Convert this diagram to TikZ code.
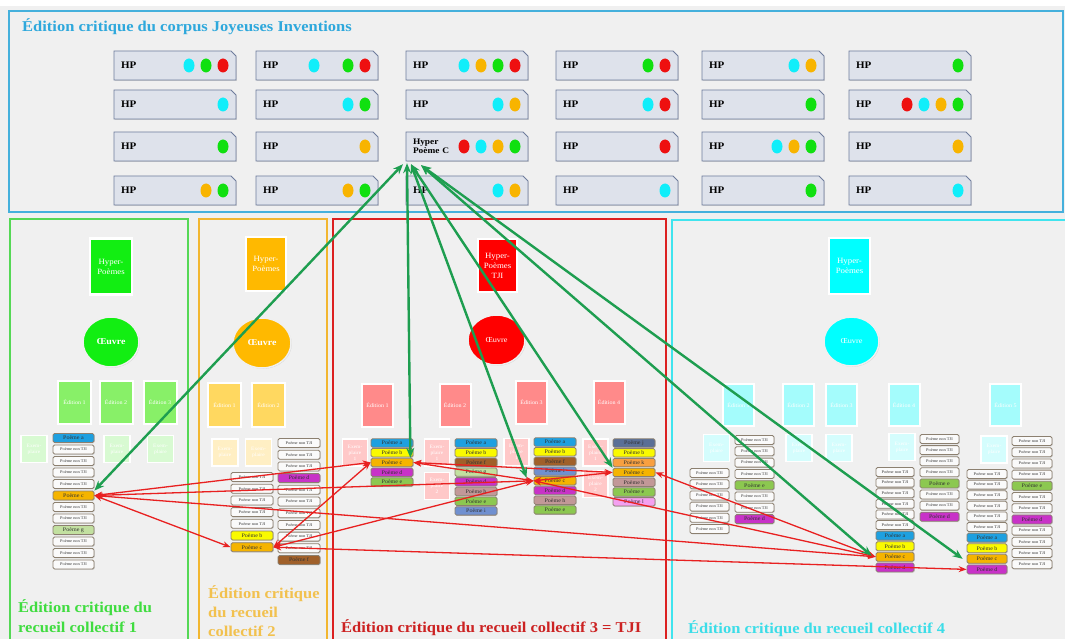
\documentclass[tikz,border=0pt]{standalone}
\usepackage{fontspec}
\setmainfont{Liberation Serif}[FakeStretch=1.1]
\usetikzlibrary{shapes.geometric,arrows.meta,shadows,calc}

% page and frames
\definecolor{bggray}{HTML}{F0F0F0}
\definecolor{topline}{HTML}{45B0DC}
\definecolor{titleblue}{HTML}{2EA8DC}
\definecolor{line1}{HTML}{55D855}
\definecolor{line2}{HTML}{F2B630}
\definecolor{line3}{HTML}{DC2020}
\definecolor{line4}{HTML}{40E4EE}
\definecolor{title1}{HTML}{40DC40}
\definecolor{title2}{HTML}{F2C14E}
\definecolor{title3}{HTML}{CC2222}
\definecolor{title4}{HTML}{3CDDE8}
% hyper-poem cards
\definecolor{hpfill}{HTML}{DEE2EB}
\definecolor{hpborder}{HTML}{6E7C9C}
\definecolor{dc}{HTML}{10EEFA}
\definecolor{dg}{HTML}{10E010}
\definecolor{dr}{HTML}{EE1010}
\definecolor{do}{HTML}{F8B400}
% collection colours
\definecolor{h1}{HTML}{12EE12}
\definecolor{h2}{HTML}{FFB900}
\definecolor{h3}{HTML}{FF0000}
\definecolor{h4}{HTML}{00FFFF}
\definecolor{ed1}{HTML}{88F068}
\definecolor{ed2}{HTML}{FFD860}
\definecolor{ed3}{HTML}{FF8A8A}
\definecolor{ed4}{HTML}{A4FCFC}
\definecolor{ex1}{HTML}{D8FAD2}
\definecolor{ex2}{HTML}{FFEFC4}
\definecolor{ex3}{HTML}{FFC8C8}
\definecolor{ex4}{HTML}{D4FDFD}
% poems
\definecolor{itemborder}{HTML}{8C8070}
\definecolor{itemtext}{HTML}{333333}
\definecolor{pn}{HTML}{FAFAFA}
\definecolor{pa}{HTML}{1EA0E0}
\definecolor{pb}{HTML}{FAFA00}
\definecolor{pc}{HTML}{F5B400}
\definecolor{pd}{HTML}{C832C8}
\definecolor{pe}{HTML}{8CC850}
\definecolor{pf}{HTML}{A0602A}
\definecolor{pg}{HTML}{C2E0A0}
\definecolor{ph}{HTML}{C29898}
\definecolor{pi}{HTML}{7090D0}
\definecolor{pj}{HTML}{5A6F96}
\definecolor{pk}{HTML}{F8A040}
\definecolor{pl}{HTML}{F4A0F0}
% links
\definecolor{redarrow}{HTML}{E82020}
\definecolor{greenarrow}{HTML}{1E9E50}

% one hyper-poem card (corner cut at top right) with its coloured dots,
% slot 0 being the rightmost dot
\newcommand\hpcell[6][]{%
  \filldraw[hpshape] ({#3-61},{#4-14.5}) -- ({#3+56},{#4-14.5})
    -- ({#3+61},{#4-9.5}) -- ({#3+61},{#4+14.5}) -- ({#3-61},{#4+14.5}) -- cycle;
  \node[hplabel,#1] (#2) at (#3,#4) {#5};
  \foreach \s/\dc in {#6} {%
    \node[hpdot, fill=d\dc] (#2-\s) at ({#3+48-17*\s},#4) {};
  }%
}
% one column of poem tags: prefix, x, first y, step, extra options, kinds
\newcommand\poemcol[6]{%
  \foreach \k [count=\i from 0] in {#6} {%
    \if n\k
      \def\ptxt{Poème non TJI}\def\pfnt{\fontsize{4}{4}\selectfont}%
    \else
      \edef\ptxt{Poème \k}\def\pfnt{\fontsize{5.5}{5.5}\selectfont}%
    \fi
    \node[poem, fill=p\k, #5, font=\pfnt] (#1-\i) at (#2,{#3+#4*\i}) {\ptxt};
  }%
}

\begin{document}
\begin{tikzpicture}[x=1pt, y=-1pt,
  softshadow/.style={drop shadow={shadow xshift=0.8pt, shadow yshift=-0.8pt, opacity=0.25}},
  hpshape/.style={draw=hpborder, fill=hpfill, line width=0.9pt, softshadow},
  hplabel/.style={rectangle, minimum width=122pt, minimum height=29pt,
    text width=108pt, align=left, inner xsep=7pt, inner ysep=0pt,
    font=\fontsize{10}{11}\selectfont\bfseries},
  hpdot/.style={ellipse, inner sep=0pt, minimum width=11pt, minimum height=14pt},
  hyperbox/.style={rectangle, draw=white, line width=2.5pt, minimum width=42pt,
    minimum height=56pt, inner sep=1pt, text=white, align=center,
    font=\fontsize{8}{10}\selectfont, softshadow},
  oeuvre/.style={ellipse, draw=white!88!gray, line width=1.5pt, text=white,
    inner sep=0pt, softshadow},
  edbox/.style={rectangle, draw=white, line width=2pt, minimum width=33pt,
    minimum height=43pt, inner sep=0pt, text=white,
    font=\fontsize{5.5}{6}\selectfont, softshadow},
  exbox/.style={rectangle, draw=white, line width=1.5pt, minimum width=26pt,
    minimum height=27pt, inner sep=0pt, text=white, align=center,
    font=\fontsize{5}{6}\selectfont, softshadow},
  poem/.style={rectangle, rounded corners=1.5pt, draw=itemborder, line width=0.8pt,
    minimum width=41pt, minimum height=9pt, inner sep=0pt, text=itemtext, softshadow},
  redlink/.style={draw=redarrow, line width=1.3pt,
    {Stealth[length=8pt,width=6pt]}-{Stealth[length=8pt,width=6pt]}},
  greenlink/.style={draw=greenarrow, line width=2.4pt,
    {Stealth[length=10pt,width=8pt]}-{Stealth[length=10pt,width=8pt]}},
  paneltitle/.style={anchor=base west, align=left, inner sep=0pt,
    font=\fontsize{15}{19.5}\selectfont\bfseries},
]
\useasboundingbox (0,0) rectangle (1065,639);
\fill[white] (0,0) rectangle (1065,639);
\fill[bggray] (0,6) rectangle (1065,639);

% ---------- corpus frame ----------
\draw[topline, line width=1.3pt] (9,11) rectangle (1063,212);
\node[anchor=base west, inner sep=0pt, text=titleblue,
  font=\fontsize{15}{18}\selectfont\bfseries] (corpustitle) at (22,32)
  {Édition critique du corpus Joyeuses Inventions};

\hpcell{hp11}{175}{65.5}{HP}{2/c,1/g,0/r}
\hpcell{hp12}{317}{65.5}{HP}{3/c,1/g,0/r}
\hpcell{hp13}{467}{65.5}{HP}{3/c,2/o,1/g,0/r}
\hpcell{hp14}{617}{65.5}{HP}{1/g,0/r}
\hpcell{hp15}{763}{65.5}{HP}{1/c,0/o}
\hpcell{hp16}{910}{65.5}{HP}{0/g}

\hpcell{hp21}{175}{104.5}{HP}{0/c}
\hpcell{hp22}{317}{104.5}{HP}{1/c,0/g}
\hpcell{hp23}{467}{104.5}{HP}{1/c,0/o}
\hpcell{hp24}{617}{104.5}{HP}{1/c,0/r}
\hpcell{hp25}{763}{104.5}{HP}{0/g}
\hpcell{hp26}{910}{104.5}{HP}{3/r,2/c,1/o,0/g}

\hpcell{hp31}{175}{146.5}{HP}{0/g}
\hpcell{hp32}{317}{146.5}{HP}{0/o}
\hpcell[font=\fontsize{8.5}{9.5}\selectfont\bfseries]{hp33}{467}{146.5}{Hyper\\Poème C}{3/r,2/c,1/o,0/g}
\hpcell{hp34}{617}{146.5}{HP}{0/r}
\hpcell{hp35}{763}{146.5}{HP}{2/c,1/o,0/g}
\hpcell{hp36}{910}{146.5}{HP}{0/o}

\hpcell{hp41}{175}{190.5}{HP}{1/o,0/g}
\hpcell{hp42}{317}{190.5}{HP}{1/o,0/g}
\hpcell{hp43}{467}{190.5}{HP}{1/c,0/o}
\hpcell{hp44}{617}{190.5}{HP}{0/c}
\hpcell{hp45}{763}{190.5}{HP}{0/g}
\hpcell{hp46}{910}{190.5}{HP}{0/c}

% ---------- collection frames ----------
\draw[line1, line width=1.4pt] (10,650) -- (10,219) -- (188,219) -- (188,650);
\draw[line2, line width=1.4pt] (199,650) -- (199,219) -- (327,219) -- (327,650);
\draw[line3, line width=1.4pt] (333,650) -- (333,219) -- (666,219) -- (666,650);
\draw[line4, line width=1.4pt] (672,650) -- (672,220) -- (1070,220);

\node[paneltitle, text=title1] (title1) at (18,632) {Édition critique du\\recueil collectif 1};
\node[paneltitle, text=title2, font=\fontsize{15}{19}\selectfont\bfseries] (title2) at (208,636) {Édition critique\\du recueil\\collectif 2};
\node[paneltitle, text=title3] (title3) at (341,632) {Édition critique du recueil collectif 3 = TJI};
\node[paneltitle, text=title4] (title4) at (688,633) {Édition critique du recueil collectif 4};

% ---------- collection 1 ----------
\node[hyperbox, fill=h1] (hyp1) at (111,266.5) {Hyper-\\Poèmes};
\node[oeuvre, fill=h1, minimum width=56pt, minimum height=50pt,
  font=\fontsize{9}{9}\selectfont\bfseries] (oe1) at (111,342) {Œuvre};
\node[edbox, fill=ed1] (ed11) at (74.5,402.5) {Édition 1};
\node[edbox, fill=ed1] (ed12) at (116,402.5) {Édition 2};
\node[edbox, fill=ed1] (ed13) at (160,402.5) {Édition 3};
\node[exbox, fill=ex1] (ex11) at (34,449) {Exem-\\plaire};
\node[exbox, fill=ex1] (ex12) at (117,449) {Exem-\\plaire};
\node[exbox, fill=ex1] (ex13) at (160.5,449) {Exem-\\plaire};
\poemcol{p1}{73.5}{438}{11.5}{minimum width=41pt}{a,n,n,n,n,c,n,n,g,n,n,n}

% ---------- collection 2 ----------
\node[hyperbox, fill=h2, minimum width=40pt, minimum height=54pt] (hyp2) at (266,264) {Hyper-\\Poèmes};
\node[oeuvre, fill=h2, minimum width=58pt, minimum height=50pt,
  font=\fontsize{9}{9}\selectfont\bfseries] (oe2) at (262,343) {Œuvre};
\node[edbox, fill=ed2, minimum height=44pt] (ed21) at (224.5,405) {Édition 1};
\node[edbox, fill=ed2, minimum height=44pt] (ed22) at (268.5,405) {Édition 2};
\node[exbox, fill=ex2] (ex21) at (225,452.5) {Exem-\\plaire};
\node[exbox, fill=ex2] (ex22) at (258.5,452.5) {Exem-\\plaire};
\poemcol{p2a}{252}{477}{11.7}{minimum width=42pt}{n,n,n,n,n,b,c}
\poemcol{p2b}{299}{443}{11.7}{minimum width=42pt}{n,n,n,d,n,n,n,n,n,n,f}

% ---------- collection 3 = TJI ----------
\node[hyperbox, fill=h3, minimum width=39pt, minimum height=53pt] (hyp3) at (497.5,265.5) {Hyper-\\Poèmes\\TJI};
\node[oeuvre, fill=h3, minimum width=57pt, minimum height=50pt,
  font=\fontsize{7.5}{7.5}\selectfont] (oe3) at (496.5,340) {Œuvre};
\node[edbox, fill=ed3, minimum width=31pt] (ed31) at (377.5,405.5) {Édition 1};
\node[edbox, fill=ed3, minimum width=31pt] (ed32) at (455,405) {Édition 2};
\node[edbox, fill=ed3, minimum width=31pt] (ed33) at (531.5,402.5) {Édition 3};
\node[edbox, fill=ed3, minimum width=31pt] (ed34) at (609,402.5) {Édition 4};
\node[exbox, fill=ex3, minimum width=25pt] (ex31) at (355,452.5) {Exem-\\plaire\\1};
\node[exbox, fill=ex3, minimum width=25pt] (ex32) at (437,452.5) {Exem-\\plaire\\1};
\node[exbox, fill=ex3, minimum width=25pt] (ex33) at (437,486) {Exem-\\plaire\\2};
\node[exbox, fill=ex3, minimum width=25pt] (ex34) at (516.5,452) {Exem-\\plaire\\1};
\node[exbox, fill=ex3, minimum width=25pt] (ex35) at (595.5,452.5) {Exem-\\plaire\\1};
\node[exbox, fill=ex3, minimum width=25pt] (ex36) at (595.5,484) {Exem-\\plaire\\2};
\poemcol{p3a}{392}{443}{9.75}{minimum width=42pt, minimum height=8.4pt}{a,b,c,d,e}
\poemcol{p3b}{476}{443}{9.7}{minimum width=42pt, minimum height=8.4pt}{a,b,f,g,d,h,e,i}
\poemcol{p3c}{555}{442}{9.7}{minimum width=42pt, minimum height=8.4pt}{a,b,f,i,c,d,h,e}
\poemcol{p3d}{634}{443}{9.8}{minimum width=42pt, minimum height=8.4pt}{j,b,k,c,h,e,l}

% ---------- collection 4 ----------
\node[hyperbox, fill=h4, minimum width=41pt] (hyp4) at (849.5,266) {Hyper-\\Poèmes};
\node[oeuvre, fill=h4, minimum width=55pt, minimum height=49pt,
  font=\fontsize{7.5}{7.5}\selectfont] (oe4) at (851.5,341.5) {Œuvre};
\node[edbox, fill=ed4, minimum width=31pt, minimum height=42pt] (ed41) at (738.5,405) {Édition 1};
\node[edbox, fill=ed4, minimum width=31pt, minimum height=42pt] (ed42) at (798.5,405) {Édition 2};
\node[edbox, fill=ed4, minimum width=31pt, minimum height=42pt] (ed43) at (841.5,405) {Édition 3};
\node[edbox, fill=ed4, minimum width=31pt, minimum height=42pt] (ed44) at (904,405) {Édition 4};
\node[edbox, fill=ed4, minimum width=31pt, minimum height=42pt] (ed45) at (1005.5,405) {Édition 5};
\node[exbox, fill=ex4] (ex41) at (716.5,448) {Exem-\\plaire};
\node[exbox, fill=ex4] (ex42) at (799,448) {Exem-\\plaire};
\node[exbox, fill=ex4] (ex43) at (839,448) {Exem-\\plaire};
\node[exbox, fill=ex4] (ex44) at (902,447) {Exem-\\plaire};
\node[exbox, fill=ex4] (ex45) at (994,449.5) {Exem-\\plaire};
\poemcol{p4a}{709.5}{473}{11.2}{minimum width=39pt}{n,n,n,n,n,n}
\poemcol{p4b}{754.5}{440}{11.3}{minimum width=39pt}{n,n,n,n,e,n,n,d}
\poemcol{p4c}{895}{472}{10.6}{minimum width=38pt}{n,n,n,n,n,n,a,b,c,d}
\poemcol{p4d}{939.5}{439}{11.1}{minimum width=39pt}{n,n,n,n,e,n,n,d}
\poemcol{p4e}{987}{474}{10.6}{minimum width=40pt}{n,n,n,n,n,n,a,b,c,d}
\poemcol{p4f}{1032}{441}{11.2}{minimum width=40pt}{n,n,n,n,e,n,n,d,n,n,n,n}

% ---------- links between the versions of Poème c ----------
\draw[redlink] (p1-5.east) -- (p3a-2.west);
\draw[redlink] (p1-5.east) -- (p3c-4.west);
\draw[redlink] (p1-5.east) -- (p4c-8.west);
\draw[redlink] (p1-5.east) -- (p2a-6.west);
\draw[redlink] (p2a-6.east) -- (p3a-2.west);
\draw[redlink] (p2a-6.east) -- (p3c-4.west);
\draw[redlink] (p2a-6.east) -- (p4e-9.west);
\draw[redlink] (p3a-2.east) -- (p3d-3.west);
\draw[redlink] (p3a-2.east) -- (p3c-4.west);
\draw[redlink] (p3c-4.west) -- (p3d-3.west);
\draw[redlink] (p3c-4.west) -- (p4c-8.west);
\draw[redlink] (p3d-3.east) -- (p4c-8.west);

% ---------- links from the hyper-poem ----------
\coordinate (hpcA) at ($(hp33.south)+(-64,3)$);
\coordinate (hpcB) at ($(hp33.south)+(-60,2)$);
\coordinate (hpcC) at ($(hp33.south)+(-56,3)$);
\coordinate (hpcD) at ($(hp33.south)+(-46,4)$);
\draw[greenlink] (hpcA) -- (p1-5.north east);
\draw[greenlink] (hpcB) -- ($(p3a-2.north east)+(-3,0)$);
\draw[greenlink] (hpcC) -- ($(p3c-4.west)+(-7,-3)$);
\draw[greenlink] (hpcC) -- (p3d-3.north west);
\draw[greenlink] (hpcD) -- ($(p4c-8.west)+(-4,-1)$);
\draw[greenlink] (hpcD) -- ($(p4e-8.west)+(-4,0)$);
\end{tikzpicture}
\end{document}
